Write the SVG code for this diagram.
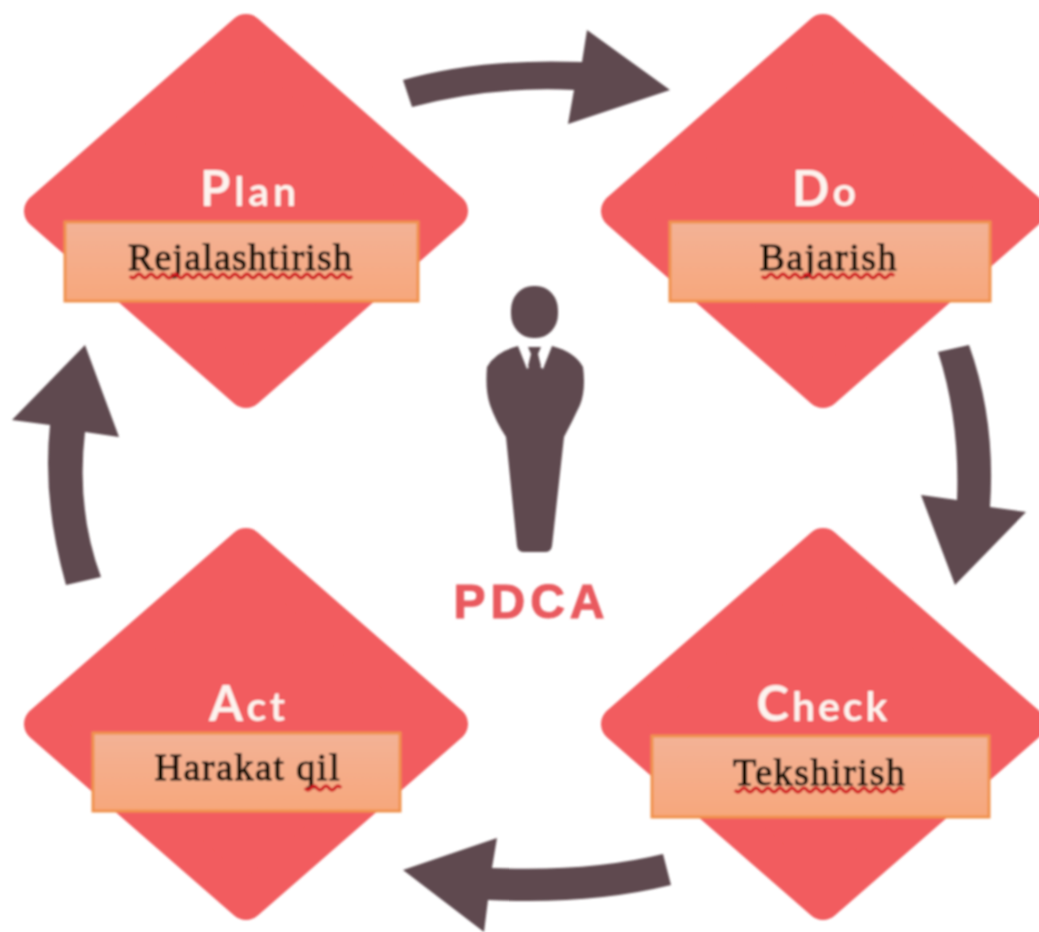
<svg xmlns="http://www.w3.org/2000/svg" width="1039" height="932" viewBox="0 0 1039 932">
<style>
.d{fill:#f25c5e;stroke:#f25c5e;stroke-width:36;stroke-linejoin:round}
.b{fill:url(#g);stroke:#f0924e;stroke-width:3}
.h{font-family:Lato,"Liberation Sans",sans-serif;font-weight:700;font-size:49px;fill:#fdf3ee;text-anchor:middle}
.h tspan{font-size:41px}
.t{font-family:"Liberation Serif",serif;font-size:38px;fill:#120805;text-anchor:middle;stroke:#120805;stroke-width:1.1}
.w{fill:none;stroke:#d01f24;stroke-width:3.5}
.a{fill:#5f4a4f}
</style>
<defs>
<linearGradient id="g" x1="0" y1="0" x2="0" y2="1"><stop offset="0" stop-color="#f3b296"/><stop offset="1" stop-color="#f7a77c"/></linearGradient>
<filter id="s" filterUnits="userSpaceOnUse" x="0" y="0" width="1039" height="932"><feGaussianBlur stdDeviation="0.9"/></filter>
</defs>
<rect width="1039" height="932" fill="#fff"/>
<g filter="url(#s)">
<g id="connectors">
<path class="a" d="M403 80Q480 58 582 62L587 30L670 90L568 124L574 90Q490 86 412 107Z"/>
<path class="a" d="M938 352L969 345Q996 420 990 507L1026 512L955 585L921 495L957 500Q960 420 938 352Z"/>
<path class="a" d="M663 854L671 885Q590 905 488 900L484 932L403 870L497 838L492 868Q590 872 663 854Z"/>
<path class="a" d="M66 585L101 577Q76 510 85 432L119 437L85 345L12 420L50 425Q42 500 66 585Z"/>
</g>
<g id="plan">
<path class="d" d="M246 32L450 211L246 390L42 211Z"/>
<text class="h" x="248" y="206" textLength="96">P<tspan>lan</tspan></text>
<rect class="b" x="65" y="222" width="353" height="79"/>
<text class="t" x="240" y="270" textLength="224">Rejalashtirish</text>
<path class="w" d="M130 276q3 4 6 0t6 0t6 0t6 0t6 0t6 0t6 0t6 0t6 0t6 0t6 0t6 0t6 0t6 0t6 0t6 0t6 0t6 0t6 0t6 0t6 0t6 0t6 0t6 0t6 0t6 0t6 0t6 0t6 0t6 0t6 0t6 0t6 0t6 0t6 0t6 0t6 0"/>
</g>
<g id="do">
<path class="d" d="M823 32L1027 211L823 390L619 211Z"/>
<text class="h" x="824" y="206" textLength="64">D<tspan>o</tspan></text>
<rect class="b" x="670" y="222" width="320" height="79"/>
<text class="t" x="828" y="270" textLength="137">Bajarish</text>
<path class="w" d="M762 276q3 4 6 0t6 0t6 0t6 0t6 0t6 0t6 0t6 0t6 0t6 0t6 0t6 0t6 0t6 0t6 0t6 0t6 0t6 0t6 0t6 0t6 0t6 0"/>
</g>
<g id="act">
<path class="d" d="M246 546L450 724L246 902L42 724Z"/>
<text class="h" x="247" y="721" textLength="76">A<tspan>ct</tspan></text>
<rect class="b" x="93" y="733" width="307" height="78"/>
<text class="t" x="247" y="780" textLength="185">Harakat qil</text>
<path class="w" d="M305 788q3 4 6 0t6 0t6 0t6 0t6 0t6 0"/>
</g>
<g id="check">
<path class="d" d="M823 546L1027 724L823 902L619 724Z"/>
<text class="h" x="822" y="721" textLength="131">C<tspan>heck</tspan></text>
<rect class="b" x="652" y="736" width="337" height="81"/>
<text class="t" x="819" y="785" textLength="172">Tekshirish</text>
<path class="w" d="M735 790q3 4 6 0t6 0t6 0t6 0t6 0t6 0t6 0t6 0t6 0t6 0t6 0t6 0t6 0t6 0t6 0t6 0t6 0t6 0t6 0t6 0t6 0t6 0t6 0t6 0t6 0t6 0t6 0t6 0"/>
</g>
<g id="pdca">
<rect class="a" x="511" y="286" width="47" height="52" rx="22" ry="24"/>
<path class="a" d="M518 346L527 369L534 362L543 369L552 346Q575 352 583 367Q586 390 580 405Q572 422 564 437L552 546Q551 552 545 552H524Q518 552 517 546L506 437Q496 422 490 405Q485 390 487 367Q495 352 518 346Z"/>
<path class="a" d="M528 347H541L538 354L541 366L535 372L528 366L531 354Z"/>
<text x="529" y="618" font-family="'Liberation Sans',sans-serif" font-weight="700" font-size="48" textLength="151" fill="#e95a5f" stroke="#e95a5f" stroke-width="1" text-anchor="middle">PDCA</text>
</g>
</g>
</svg>
